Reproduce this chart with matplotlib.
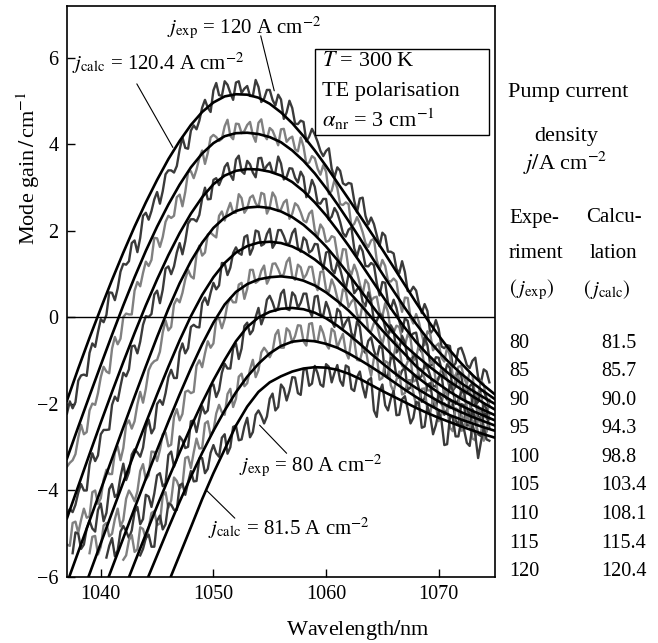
import numpy as np
import matplotlib
matplotlib.use('Agg')
import matplotlib.pyplot as plt
from matplotlib.patches import Rectangle

plt.rcParams['font.family'] = ['Liberation Serif', 'DejaVu Serif']
plt.rcParams['mathtext.fontset'] = 'stix'

# Расчётные кривые (шаг 1 нм), начало каждой кривой
calc_start = [1037, 1037, 1037, 1037, 1038, 1040, 1042, 1044, 1045]
calc_1204 = [-1.92, -1.18, -0.47, 0.21, 0.87, 1.50, 2.10, 2.66, 3.18, 3.66,
             4.08, 4.45, 4.75, 4.97, 5.11, 5.16, 5.15, 5.08, 4.94, 4.74,
             4.49, 4.19, 3.86, 3.50, 3.12, 2.74, 2.35, 1.96, 1.57, 1.16,
             0.75, 0.34, -0.05, -0.42, -0.76, -1.06, -1.33, -1.57, -1.78]
calc_1154 = [-3.26, -2.53, -1.81, -1.10, -0.40, 0.28, 0.93, 1.54, 2.10, 2.61,
             3.07, 3.47, 3.79, 4.03, 4.19, 4.26, 4.27, 4.24, 4.17, 4.05,
             3.86, 3.62, 3.33, 2.99, 2.62, 2.23, 1.83, 1.42, 1.01, 0.61,
             0.22, -0.15, -0.49, -0.79, -1.06, -1.30, -1.51, -1.71, -1.89]
calc_1081 = [-4.64, -3.90, -3.16, -2.43, -1.72, -1.03, -0.36, 0.28, 0.88, 1.44,
             1.95, 2.40, 2.78, 3.08, 3.28, 3.39, 3.43, 3.42, 3.37, 3.28,
             3.13, 2.92, 2.66, 2.36, 2.02, 1.66, 1.28, 0.89, 0.50, 0.12,
             -0.24, -0.57, -0.85, -1.10, -1.32, -1.52, -1.69, -1.85, -2.00]
calc_1034 = [-6.14, -5.42, -4.70, -3.98, -3.26, -2.54, -1.83, -1.13, -0.45, 0.20,
             0.79, 1.30, 1.73, 2.07, 2.31, 2.46, 2.54, 2.56, 2.53, 2.45,
             2.32, 2.14, 1.91, 1.64, 1.33, 1.00, 0.65, 0.30, -0.04, -0.36,
             -0.65, -0.88, -1.10, -1.30, -1.49, -1.66, -1.82, -1.98, -2.13]
calc_988 = [-6.63, -5.93, -5.22, -4.51, -3.81, -3.12, -2.44, -1.78, -1.14,
            -0.53, 0.03, 0.52, 0.93, 1.26, 1.50, 1.65, 1.73, 1.75, 1.72,
            1.64, 1.51, 1.34, 1.13, 0.88, 0.60, 0.31, 0.01, -0.30, -0.58,
            -0.85, -1.13, -1.35, -1.54, -1.72, -1.88, -2.02, -2.14, -2.26]
calc_943 = [-6.48, -5.79, -5.10, -4.41, -3.73, -3.06, -2.41,
            -1.78, -1.18, -0.62, -0.12, 0.30, 0.59, 0.77, 0.88, 0.93, 0.95,
            0.92, 0.85, 0.74, 0.58, 0.38, 0.16, -0.10, -0.37, -0.64, -0.90,
            -1.14, -1.36, -1.56, -1.74, -1.90, -2.04, -2.16, -2.27, -2.38]
calc_900 = [-6.34, -5.67, -5.01, -4.36, -3.73,
            -3.12, -2.53, -1.97, -1.45, -0.98, -0.55, -0.22, 0.00, 0.13, 0.20,
            0.22, 0.19, 0.11, -0.02, -0.19, -0.39, -0.61, -0.84, -1.06, -1.27,
            -1.46, -1.63, -1.79, -1.94, -2.07, -2.19, -2.30, -2.40, -2.50]
calc_857 = [-6.13, -5.50, -4.87,
            -4.26, -3.68, -3.13, -2.62, -2.15, -1.73, -1.37, -1.07, -0.83, -0.66,
            -0.56, -0.53, -0.55, -0.61, -0.70, -0.83, -0.98, -1.14, -1.31, -1.49,
            -1.67, -1.84, -2.00, -2.14, -2.26, -2.36, -2.45, -2.54, -2.62]
calc_815 = [-6.80, -6.13,
            -5.49, -4.85, -4.20, -3.60, -3.05, -2.50, -2.06, -1.72, -1.50, -1.36,
            -1.25, -1.18, -1.15, -1.16, -1.21, -1.30, -1.42, -1.56, -1.70, -1.83,
            -1.96, -2.09, -2.21, -2.32, -2.42, -2.52, -2.61, -2.70, -2.78]
calc_curves = [calc_1204, calc_1154, calc_1081, calc_1034, calc_988,
               calc_943, calc_900, calc_857, calc_815]

# Эксперимент: отсчёты через 0.5 нм (узлы) и промежуточные отсчёты (+0.25 нм)
exp_start = [1037.0, 1037.0, 1037.0, 1037.0, 1037.5, 1039.0, 1040.5, 1042.0, 1043.5]
exp_120 = [-2.22, -2.10, -1.46, -1.32, -0.82, -0.68, -0.04, 0.06, 0.57, 0.67,
           1.24, 1.30, 1.78, 1.84, 2.42, 2.46, 2.90, 2.92, 3.40, 3.35,
           3.88, 3.92, 4.32, 4.35, 4.85, 4.85, 5.25, 5.14, 5.46, 5.19,
           5.43, 5.19, 5.35, 5.12, 5.33, 5.06, 5.26, 4.90, 5.04, 4.74,
           4.84, 4.47, 4.52, 4.18, 4.23, 3.85, 3.85, 3.44, 3.47, 3.10,
           3.11, 2.70, 2.75, 2.35, 2.31, 1.90, 1.96, 1.52, 1.48, 1.02,
           1.05, 0.60, 0.62, 0.10, 0.15, -0.29, -0.27, -0.71, -0.66, -1.06,
           -0.70, -1.10, -1.00, -1.38, -1.20, -1.50]
exp_120_mid = [-1.94, -1.96, -1.34, -1.35, -0.60, -0.34, -0.11, 0.58, 0.40, 1.06,
               1.22, 1.72, 1.51, 2.35, 2.26, 2.73, 2.63, 3.31, 3.40, 3.50,
               4.16, 3.90, 4.44, 4.55, 5.03, 4.75, 5.42, 5.12, 5.38, 5.03,
               5.46, 5.29, 5.12, 5.49, 4.98, 5.26, 5.03, 5.15, 4.59, 5.01,
               4.48, 4.55, 4.07, 4.36, 4.06, 3.73, 3.91, 3.24, 3.39, 3.06,
               3.09, 2.43, 2.77, 2.15, 2.16, 1.65, 1.89, 1.52, 1.13, 1.30,
               0.61, 0.71, 0.31, 0.31, -0.37, -0.06, -0.67, -0.64, -1.14, -0.73,
               -0.88, -1.17, -0.93, -1.51, -1.25]
exp_115 = [-3.45, -3.30, -2.78, -2.70, -2.15, -2.02, -1.38, -1.25, -0.72, -0.62,
           0.01, 0.07, 0.62, 0.72, 1.29, 1.33, 1.83, 1.86, 2.35, 2.35,
           2.84, 2.90, 3.38, 3.42, 3.86, 3.80, 4.22, 4.08, 4.42, 4.20,
           4.48, 4.26, 4.45, 4.22, 4.50, 4.22, 4.38, 4.16, 4.35, 4.06,
           4.18, 3.84, 3.95, 3.58, 3.68, 3.30, 3.37, 2.93, 2.99, 2.60,
           2.62, 2.16, 2.17, 1.72, 1.78, 1.33, 1.33, 0.85, 0.90, 0.40,
           0.46, 0.00, 0.08, -0.40, -0.32, -0.76, -0.60, -1.02, -0.88, -1.35,
           -1.12, -1.55, -1.33, -1.80, -1.55, -1.90]
exp_115_mid = [-3.36, -3.16, -2.48, -2.65, -1.99, -1.75, -1.14, -1.29, -0.45, -0.49,
               0.09, 0.07, 0.82, 1.03, 1.19, 1.84, 1.63, 2.21, 2.30, 2.78,
               2.57, 3.36, 3.22, 3.69, 3.55, 4.16, 4.17, 4.13, 4.57, 4.12,
               4.47, 4.31, 4.52, 4.06, 4.58, 4.12, 4.32, 3.98, 4.36, 4.14,
               3.89, 4.16, 3.55, 3.73, 3.44, 3.52, 2.85, 3.18, 2.62, 2.66,
               2.11, 2.32, 1.97, 1.63, 1.82, 1.11, 1.19, 0.83, 0.83, 0.13,
               0.45, -0.14, -0.11, -0.64, -0.39, -0.66, -0.93, -0.69, -1.34, -1.14,
               -1.39, -1.26, -1.87, -1.46, -1.91]
exp_110 = [-4.55, -4.50, -4.05, -4.00, -3.40, -3.32, -2.70, -2.60, -2.02, -1.93,
           -1.28, -1.20, -0.65, -0.56, 0.03, 0.08, 0.62, 0.64, 1.18, 1.18,
           1.72, 1.76, 2.27, 2.22, 2.75, 2.73, 3.18, 3.06, 3.48, 3.30,
           3.65, 3.38, 3.62, 3.35, 3.68, 3.40, 3.58, 3.35, 3.56, 3.25,
           3.44, 3.12, 3.25, 2.90, 3.02, 2.63, 2.74, 2.33, 2.42, 1.95,
           2.03, 1.60, 1.66, 1.19, 1.26, 0.80, 0.82, 0.34, 0.41, -0.08,
           -0.02, -0.43, -0.35, -0.80, -0.64, -1.10, -0.93, -1.35, -1.17, -1.60,
           -1.35, -1.75, -1.52, -1.95, -1.70, -2.05]
exp_110_mid = [-4.43, -4.33, -3.85, -4.00, -3.14, -3.19, -2.60, -2.59, -1.83, -1.59,
               -1.36, -0.67, -0.83, -0.17, 0.01, 0.53, 0.33, 1.13, 1.00, 1.50,
               1.46, 2.17, 2.27, 2.37, 3.00, 2.74, 3.22, 3.22, 3.57, 3.18,
               3.74, 3.32, 3.54, 3.24, 3.69, 3.51, 3.35, 3.72, 3.19, 3.45,
               3.23, 3.37, 2.78, 3.18, 2.65, 2.74, 2.26, 2.53, 2.21, 1.87,
               2.08, 1.41, 1.53, 1.18, 1.21, 0.51, 0.80, 0.20, 0.22, -0.33,
               -0.08, -0.37, -0.70, -0.46, -1.09, -0.92, -1.19, -1.08, -1.69, -1.26,
               -1.73, -1.59, -2.02, -1.68, -1.86]
exp_105 = [-5.25, -4.75, -4.98, -4.42, -4.60, -4.00, -4.18, -3.52, -3.62, -2.98,
           -3.02, -2.38, -2.40, -1.72, -1.65, -1.08, -0.98, -0.35, -0.30, 0.30,
           0.35, 0.88, 0.95, 1.45, 1.43, 1.92, 1.90, 2.35, 2.24, 2.65,
           2.42, 2.76, 2.52, 2.82, 2.55, 2.85, 2.55, 2.78, 2.50, 2.72,
           2.40, 2.58, 2.24, 2.40, 2.02, 2.15, 1.75, 1.88, 1.45, 1.58,
           1.12, 1.22, 0.77, 0.87, 0.39, 0.48, 0.02, 0.12, -0.35, -0.22,
           -0.65, -0.48, -0.92, -0.75, -1.18, -1.00, -1.42, -1.22, -1.65, -1.42,
           -1.80, -1.58, -1.98, -1.75, -2.15, -1.92]
exp_105_mid = [-5.28, -4.72, -4.68, -4.63, -4.04, -4.31, -3.75, -3.62, -3.12, -3.30,
               -2.48, -2.57, -2.01, -1.97, -1.22, -1.01, -0.79, -0.07, -0.22, 0.43,
               0.57, 1.10, 0.90, 1.66, 1.50, 1.96, 1.85, 2.45, 2.47, 2.42,
               2.85, 2.42, 2.77, 2.64, 2.88, 2.40, 2.89, 2.46, 2.66, 2.28,
               2.64, 2.43, 2.20, 2.47, 1.87, 2.05, 1.77, 1.85, 1.22, 1.57,
               0.99, 1.05, 0.54, 0.78, 0.46, 0.13, 0.33, -0.34, -0.19, -0.49,
               -0.39, -1.00, -0.62, -1.15, -1.04, -1.49, -1.17, -1.42, -1.66, -1.35,
               -1.91, -1.68, -1.92, -1.77, -2.34]
exp_100 = [-5.45, -5.00, -5.25, -4.70, -4.95, -4.30, -4.52, -3.85, -4.08, -3.38,
           -3.58, -3.05, -3.22, -2.55, -2.68, -2.00, -2.02, -1.38, -1.40, -0.80,
           -0.83, -0.22, -0.22, 0.33, 0.29, 0.80, 0.74, 1.25, 1.15, 1.62,
           1.45, 1.90, 1.60, 1.98, 1.70, 2.05, 1.72, 2.02, 1.70, 1.95,
           1.62, 1.85, 1.50, 1.70, 1.32, 1.50, 1.12, 1.28, 0.86, 1.00,
           0.56, 0.70, 0.26, 0.38, -0.08, 0.04, -0.42, -0.30, -0.72, -0.58,
           -1.00, -0.90, -1.35, -1.15, -1.58, -1.38, -1.80, -1.55, -2.00, -1.72,
           -2.12, -1.86, -2.30, -1.98, -2.35]
exp_100_mid = [-4.97, -5.35, -4.88, -4.88, -4.45, -4.71, -3.97, -4.15, -3.68, -3.76,
               -3.17, -3.12, -3.01, -2.36, -2.56, -1.91, -1.75, -1.21, -1.40, -0.60,
               -0.71, -0.17, -0.23, 0.46, 0.57, 0.65, 1.26, 0.98, 1.49, 1.49,
               1.86, 1.45, 2.01, 1.66, 1.93, 1.61, 2.02, 1.88, 1.71, 2.05,
               1.52, 1.78, 1.55, 1.69, 1.11, 1.53, 1.02, 1.12, 0.65, 0.93,
               0.65, 0.36, 0.58, -0.07, 0.08, -0.24, -0.18, -0.81, -0.43, -0.97,
               -0.90, -1.41, -1.10, -1.35, -1.60, -1.33, -1.90, -1.68, -1.91, -1.74,
               -2.29, -1.86, -2.32, -2.12]
exp_95 = [-5.45, -5.05, -5.30, -4.75, -5.00, -4.42, -4.68, -4.00, -4.25, -3.55,
          -3.75, -3.10, -3.32, -2.70, -2.98, -2.30, -2.38, -1.72, -1.75, -1.12,
          -1.15, -0.55, -0.60, -0.02, -0.04, 0.45, 0.35, 0.80, 0.66, 1.10,
          0.85, 1.20, 0.92, 1.25, 0.95, 1.28, 0.95, 1.22, 0.90, 1.17,
          0.80, 1.05, 0.65, 0.88, 0.45, 0.65, 0.24, 0.44, -0.05, 0.16,
          -0.32, -0.14, -0.62, -0.42, -0.90, -0.70, -1.18, -0.95, -1.45, -1.20,
          -1.68, -1.45, -1.92, -1.65, -2.10, -1.80, -2.25, -1.95, -2.40, -2.05,
          -2.50, -2.22]
exp_95_mid = [-5.07, -5.48, -4.81, -5.06, -4.66, -4.83, -4.19, -4.11, -4.02, -3.39,
              -3.65, -3.11, -3.06, -2.66, -2.94, -2.12, -2.23, -1.69, -1.72, -0.99,
              -0.83, -0.70, -0.05, -0.25, 0.31, 0.35, 0.76, 0.43, 1.10, 0.80,
              1.08, 0.78, 1.24, 1.12, 1.00, 1.38, 0.87, 1.16, 0.99, 1.17,
              0.63, 1.07, 0.59, 0.72, 0.27, 0.60, 0.36, 0.08, 0.32, -0.30,
              -0.13, -0.43, -0.34, -0.96, -0.58, -1.12, -1.02, -1.48, -1.18, -1.42,
              -1.69, -1.43, -2.01, -1.78, -2.00, -1.85, -2.40, -1.96, -2.41, -2.23,
              -2.64]
exp_90 = [-5.55, -5.10, -5.38, -4.82, -5.10, -4.50, -4.78, -4.10, -4.38, -3.65,
          -3.90, -3.18, -3.45, -2.75, -3.02, -2.40, -2.65, -2.05, -2.15, -1.55,
          -1.68, -1.07, -1.18, -0.60, -0.72, -0.12, -0.30, 0.22, 0.02, 0.50,
          0.15, 0.55, 0.20, 0.58, 0.22, 0.55, 0.18, 0.48, 0.08, 0.36,
          -0.08, 0.20, -0.25, 0.00, -0.48, -0.22, -0.82, -0.46, -0.95, -0.72,
          -1.35, -0.95, -1.40, -1.16, -1.62, -1.38, -1.95, -1.55, -2.00, -1.75,
          -2.25, -1.90, -2.38, -2.00, -2.50, -2.12, -2.70, -2.22, -2.55]
exp_90_mid = [-5.28, -5.52, -4.95, -4.94, -4.92, -4.38, -4.66, -4.14, -4.07, -3.60,
              -3.84, -3.10, -3.28, -2.84, -2.99, -2.38, -2.33, -2.22, -1.59, -1.84,
              -1.28, -1.18, -0.71, -0.96, -0.20, -0.39, 0.01, -0.16, 0.41, 0.35,
              0.23, 0.64, 0.17, 0.50, 0.34, 0.55, 0.03, 0.50, 0.04, 0.19,
              -0.22, 0.13, -0.11, -0.36, -0.09, -0.74, -0.54, -0.76, -0.66, -1.34,
              -0.93, -1.36, -1.23, -1.67, -1.35, -1.65, -1.87, -1.52, -2.10, -1.90,
              -2.13, -1.96, -2.49, -2.03, -2.49, -2.36, -2.74, -2.24]
exp_85 = [-5.60, -5.15, -5.42, -4.85, -5.12, -4.52, -4.80, -4.12, -4.40, -3.70,
          -3.95, -3.25, -3.48, -2.80, -3.02, -2.40, -2.62, -2.02, -2.25, -1.65,
          -1.88, -1.30, -1.52, -0.98, -1.22, -0.70, -0.92, -0.40, -0.70, -0.25,
          -0.58, -0.18, -0.55, -0.15, -0.55, -0.20, -0.62, -0.26, -0.70, -0.38,
          -0.95, -0.52, -1.00, -0.70, -1.35, -0.88, -1.40, -1.05, -1.72, -1.25,
          -1.75, -1.45, -2.05, -1.65, -2.15, -1.85, -2.40, -1.98, -2.55, -2.10,
          -2.62, -2.22, -2.80, -2.32, -2.85, -2.45]
exp_85_mid = [-5.50, -5.03, -5.36, -4.89, -4.87, -4.48, -4.76, -4.04, -4.23, -3.78,
              -3.88, -3.22, -3.12, -3.03, -2.45, -2.73, -2.22, -2.19, -1.77, -2.07,
              -1.37, -1.59, -1.20, -1.38, -0.81, -0.79, -0.78, -0.29, -0.70, -0.32,
              -0.43, -0.19, -0.65, -0.13, -0.56, -0.36, -0.72, -0.33, -0.52, -0.79,
              -0.48, -0.98, -0.75, -1.08, -0.94, -1.44, -1.01, -1.57, -1.44, -1.78,
              -1.45, -1.73, -1.97, -1.64, -2.22, -2.03, -2.24, -2.09, -2.63, -2.14,
              -2.60, -2.46, -2.84, -2.44, -2.63]
exp_80 = [-5.50, -5.10, -5.30, -4.70, -4.90, -4.30, -4.45, -3.88, -4.10, -3.55,
          -3.78, -3.25, -3.50, -2.95, -3.22, -2.70, -3.00, -2.50, -2.82, -2.32,
          -2.65, -2.15, -2.45, -1.88, -2.15, -1.55, -1.92, -1.38, -1.75, -1.22,
          -1.58, -1.12, -1.55, -1.08, -1.50, -1.10, -1.58, -1.15, -1.70, -1.25,
          -1.85, -1.40, -2.30, -1.55, -2.15, -1.70, -2.25, -1.82, -2.45, -1.95,
          -2.55, -2.05, -2.70, -2.18, -2.95, -2.30, -2.75, -2.38, -2.90, -2.48,
          -3.25, -2.55, -2.85]
exp_80_mid = [-5.35, -5.02, -5.30, -4.58, -4.78, -4.33, -4.45, -3.84, -3.81, -3.79,
              -3.26, -3.60, -3.13, -3.14, -2.78, -3.15, -2.53, -2.84, -2.52, -2.77,
              -2.25, -2.28, -2.29, -1.76, -2.07, -1.64, -1.70, -1.39, -1.79, -1.18,
              -1.53, -1.29, -1.60, -1.14, -1.28, -1.46, -1.11, -1.65, -1.38, -1.60,
              -1.45, -2.15, -1.71, -2.03, -1.88, -2.26, -1.89, -2.12, -2.32, -1.99,
              -2.52, -2.28, -2.49, -2.39, -2.93, -2.31, -2.75, -2.59, -2.97, -2.72,
              -2.88, -2.82]
exp_nodes = [exp_120, exp_115, exp_110, exp_105, exp_100,
             exp_95, exp_90, exp_85, exp_80]
exp_mids = [exp_120_mid, exp_115_mid, exp_110_mid, exp_105_mid, exp_100_mid,
            exp_95_mid, exp_90_mid, exp_85_mid, exp_80_mid]

# Таблица справа
j_exp = ['80', '85', '90', '95', '100', '105', '110', '115', '120']
j_calc = ['81.5', '85.7', '90.0', '94.3', '98.8', '103.4', '108.1', '115.4', '120.4']

W, H = 658, 643
fig = plt.figure(figsize=(W / 100, H / 100), dpi=100)
ax = fig.add_axes([67 / W, 66 / H, 428 / W, 571 / H])

# экспериментальные (шумные) кривые
for i, (x0, a, b) in enumerate(zip(exp_start, exp_nodes, exp_mids)):
    n = len(a)
    x = np.empty(2 * n - 1)
    y = np.empty(2 * n - 1)
    x[0::2] = x0 + 0.5 * np.arange(n)
    x[1::2] = x0 + 0.25 + 0.5 * np.arange(n - 1)
    y[0::2] = a
    y[1::2] = b
    col = '#3a3a3a' if i % 2 == 0 else '#808080'
    ax.plot(x, y, color=col, lw=1.7, zorder=2)

# расчётные кривые
for x0, ys in zip(calc_start, calc_curves):
    x = x0 + np.arange(len(ys))
    ax.plot(x, ys, color='black', lw=1.9, zorder=3)

ax.axhline(0, color='black', lw=1.0, zorder=4)

ax.set_xlim(1037, 1075)
ax.set_ylim(-6, 7.2)
ax.set_xticks([1040, 1050, 1060, 1070])
ax.set_yticks([-6, -4, -2, 0, 2, 4, 6])
ax.set_yticklabels(['\u22126', '\u22124', '\u22122', '0', '2', '4', '6'])
ax.tick_params(direction='in', length=6, width=1, labelsize=14.5,
               top=False, right=False, pad=6)
for s in ax.spines.values():
    s.set_linewidth(1.2)

fs = 15
ax.text(1045.85, 6.70, '$j_{\\mathrm{exp}}$ = 120 A cm$^{-2}$',
        fontsize=fs, ha='left', va='center')
ax.text(1037.4, 5.87, '$j_{\\mathrm{calc}}$ = 120.4 A cm$^{-2}$',
        fontsize=fs, ha='left', va='center')
ax.text(1052.3, -3.42, '$j_{\\mathrm{exp}}$ = 80 A cm$^{-2}$',
        fontsize=fs, ha='left', va='center')
ax.text(1049.5, -4.87, '$j_{\\mathrm{calc}}$ = 81.5 A cm$^{-2}$',
        fontsize=fs, ha='left', va='center')

lp = dict(arrowstyle='-', lw=0.8, color='black', shrinkA=0, shrinkB=0)
ax.annotate('', xy=(1055.4, 5.24), xytext=(1054.2, 6.51), arrowprops=lp)
ax.annotate('', xy=(1046.4, 3.93), xytext=(1043.2, 5.40), arrowprops=lp)
ax.annotate('', xy=(1054.1, -2.49), xytext=(1056.5, -3.14), arrowprops=lp)
ax.annotate('', xy=(1049.4, -4.00), xytext=(1051.9, -4.64), arrowprops=lp)

# рамка с условиями
ax.add_patch(Rectangle((0.579, 0.774), 0.407, 0.151, transform=ax.transAxes,
                       fc='white', ec='black', lw=1.0, zorder=5))
for yy, t in zip([0.902, 0.851, 0.802],
                 ['$T$ = 300 K', 'TE polarisation',
                  '$\\alpha_{\\mathrm{nr}}$ = 3 cm$^{-1}$']):
    ax.text(0.596, yy, t, transform=ax.transAxes, fontsize=16,
            ha='left', va='center', zorder=6)

# подписи осей
fig.text(28 / W, 1 - 168 / H, 'Mode gain$\\,/\\,$cm$^{-1}$', rotation=90,
         fontsize=16, ha='center', va='center')
fig.text(358 / W, 1 - 630 / H, 'Wavelength$/$nm',
         fontsize=16, ha='center', va='center')

# правая колонка
fig.text(568 / W, 1 - 93 / H, 'Pump current', fontsize=16, ha='center', va='center')
fig.text(566 / W, 1 - 137 / H, 'density', fontsize=16, ha='center', va='center')
fig.text(565 / W, 1 - 163 / H, '$j/$A cm$^{-2}$', fontsize=16,
         ha='center', va='center')
fig.text(509 / W, 1 - 218 / H, 'Expe-', fontsize=fs, ha='left', va='center')
fig.text(509 / W, 1 - 254 / H, 'riment', fontsize=fs, ha='left', va='center')
fig.text(509 / W, 1 - 290 / H, '$(\\,j_{\\mathrm{exp}})$', fontsize=fs,
         ha='left', va='center')
fig.text(586 / W, 1 - 218 / H, 'Calcu-', fontsize=fs, ha='left', va='center')
fig.text(590 / W, 1 - 254 / H, 'lation', fontsize=fs, ha='left', va='center')
fig.text(583 / W, 1 - 290 / H, '$(\\,j_{\\mathrm{calc}})$', fontsize=fs,
         ha='left', va='center')
for k, (a, b) in enumerate(zip(j_exp, j_calc)):
    yy = 1 - (343 + 28.6 * k) / H
    fig.text(509 / W, yy, a, fontsize=14.5, ha='left', va='center')
    fig.text(601 / W, yy, b, fontsize=14.5, ha='left', va='center')

fig.savefig('out.png', dpi=100)
